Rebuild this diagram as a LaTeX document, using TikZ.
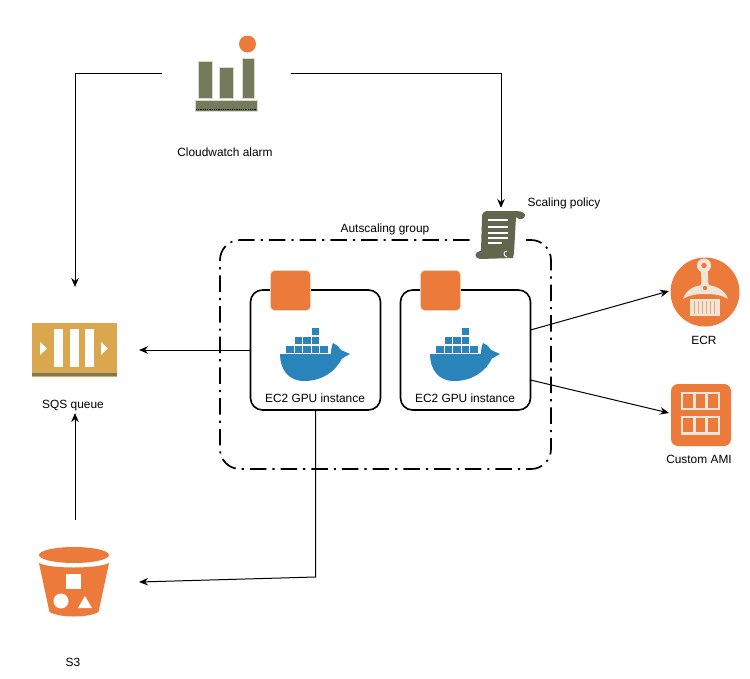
\documentclass[tikz,border=0pt]{standalone}
\usepackage{fontspec}
\setmainfont{Liberation Sans}
\usetikzlibrary{arrows.meta}
\definecolor{awsorange}{HTML}{EC7A3B}
\definecolor{olivegrey}{HTML}{747A5C}
\definecolor{scrolldark}{HTML}{62664E}
\definecolor{sqsgold}{HTML}{DAA64E}
\definecolor{dockerblue}{HTML}{2A84BC}
\definecolor{cream}{HTML}{F0E6D8}
\definecolor{halo}{HTML}{DDD8C6}
\tikzset{
  x=1pt,y=-1pt,
  lbl/.style={font=\fontsize{11.9}{13}\selectfont,inner sep=0pt,text=black},
  slot/.style={draw=none,inner sep=0pt,outer sep=0pt,shape=rectangle},
  conn/.style={draw=black,line width=1pt},
  arrowconn/.style={conn,-{Stealth[length=9pt,width=7.5pt]}},
  instance/.style={draw=black,line width=1.6pt,rounded corners=12pt,minimum width=130pt,minimum height=120pt,inner sep=0pt,outer sep=0pt,fill=white},
  group/.style={draw=black,line width=1.7pt,rounded corners=20pt,minimum width=331pt,minimum height=229pt,inner sep=0pt,outer sep=0pt,dash pattern=on 16.5pt off 6pt on 2.2pt off 6pt},
  chip/.style={fill=awsorange,draw=halo,line width=0.8pt,rounded corners=4pt,minimum size=40pt,inner sep=0pt},
  pics/whale/.style={code={
    \fill[dockerblue] (0,0) -- (51,0) .. controls (51,-5) and (52,-9) .. (53,-11) -- (58,-8) -- (61,-4) -- (70,0) -- (62,4.5)
      .. controls (55,18) and (42,27) .. (24,27) .. controls (8,27) and (0,15) .. (0,0) -- cycle;
    \foreach \cx in {6,14.6,23.2,31.8,40.4} \fill[dockerblue] (\cx,-8.4) rectangle ++(7.6,7.4);
    \foreach \cx in {14.6,23.2,31.8} \fill[dockerblue] (\cx,-17.4) rectangle ++(7.6,7.4);
    \fill[dockerblue] (31.8,-26.4) rectangle ++(7.6,7.4);
  }},
}
\begin{document}
\begin{tikzpicture}
\useasboundingbox (0,0) rectangle (750,678);
\fill[white] (0,0) rectangle (750,678);

% layout slots
\node[slot,minimum width=129pt,minimum height=80pt] (cw) at (226.5,73) {};
\node[slot,minimum width=128pt,minimum height=126pt] (sqs) at (75,350) {};
\node[slot,minimum width=128pt,minimum height=124pt] (s3) at (75,582) {};
\node[slot,minimum width=50pt,minimum height=52pt] (policy) at (501,234) {};
\node[slot,minimum size=72pt,shape=circle] (ecr) at (705,291) {};
\node[slot,minimum width=64pt,minimum height=64pt] (ami) at (701,413) {};

% group and instances
\node[group] (asg) at (385.5,354.5) {};
\node[instance] (lbox) at (315.5,350) {};
\node[instance] (rbox) at (465.5,350) {};
\coordinate (bend) at (lbox.south |- 0,577);

% connectors
\draw[arrowconn] (cw.west) -| (sqs.north);
\draw[arrowconn] (cw.east) -| (policy.north);
\draw[arrowconn] (lbox.west) -- (sqs.east);
\draw[arrowconn] (lbox.south) -- (bend) -- (s3.east);
\draw[arrowconn] (s3.north) -- (sqs.south);
\draw[arrowconn] ([yshift=20pt]rbox.east) -- (ecr.west);
\draw[arrowconn] ([yshift=-30pt]rbox.east) -- (ami.west);

% instance contents
\node[chip] (lchip) at (290.5,290.5) {};
\node[chip] (rchip) at (440.5,290.5) {};
\pic at (280,354) {whale};
\pic at (430,354) {whale};
\node[lbl] (lname) at (315,398) {EC2 GPU instance};
\node[lbl] (rname) at (465,398) {EC2 GPU instance};
\node[lbl] (asgname) at (385,229) {Autscaling group};

% cloudwatch
\fill[olivegrey,draw=halo,line width=0.7pt] (198,61) rectangle (212,98);
\fill[olivegrey,draw=halo,line width=0.7pt] (219,67) rectangle (233,98);
\fill[olivegrey,draw=halo,line width=0.7pt] (242,58) rectangle (254,98);
\fill[olivegrey,draw=halo,line width=0.7pt] (195,100) rectangle (257,111);
\draw[black,line width=0.8pt,densely dotted] (196,109) -- (256,109);
\fill[awsorange] (247.5,44) circle (8.5);
\node[lbl] (cwname) at (225,152) {Cloudwatch alarm};

% sqs
\fill[sqsgold] (32,323) rectangle (117,377);
\fill[olivegrey] (32,373) rectangle (117,375.5);
\fill[white] (53.5,329) rectangle (62.5,367);
\fill[white] (70,329) rectangle (79,367);
\fill[white] (85,329) rectangle (94,367);
\fill[white] (40,342) -- (47,348.5) -- (40,355) -- cycle;
\fill[white] (101,342) -- (108,348.5) -- (101,355) -- cycle;
\node[lbl] (sqsname) at (73,405.5) {SQS queue};

% s3
\fill[awsorange] (74,555) ellipse [x radius=35, y radius=8];
\fill[awsorange] (39,563) .. controls (50,569) and (97,569) .. (109,563) -- (98.5,612) .. controls (88,618) and (60,618) .. (49.5,612) -- cycle;
\fill[white] (66,574) rectangle (81,589);
\fill[white] (61,601) circle (7.5);
\fill[white] (85,596) -- (92,608) -- (78,608) -- cycle;
\node[lbl] (s3name) at (73,662) {S3};

% scaling policy
\fill[white] (474,207) rectangle (526,262);
\fill[scrolldark] (488,211) -- (516,211) .. controls (521,211) and (526,213) .. (525,216) .. controls (524,220) and (518,220) .. (516,217)
  -- (514,253) -- (513,258) -- (480,259) .. controls (474,258) and (474,252) .. (480,251) -- (481,251) -- (482,217) .. controls (482,213) and (484,211) .. (488,211) -- cycle;
\draw[white,line width=0.9pt] (507,257) .. controls (503,256) and (503,251) .. (507,251);
\draw[white,line width=1.5pt] (488,220) -- (508,220) (488,227) -- (508,227) (488,233) -- (508,233) (488,238) -- (508,238) (488,243) -- (502,243);
\node[lbl] (policyname) at (564,203) {Scaling policy};

% ECR
\fill[awsorange] (705,292) circle (34.5);
\fill[cream] (701,266) -- (707.5,266) -- (708.5,288) -- (701.5,288) -- cycle;
\fill[cream] (704,265.5) circle (7);
\fill[awsorange] (704,265.5) circle (2.7);
\fill[cream] (683,299) .. controls (686,290) and (694,285) .. (705,285) .. controls (716,285) and (725,290) .. (728,299) .. controls (722,295) and (714,294) .. (705,294) .. controls (696,294) and (689,295) .. (683,299) -- cycle;
\fill[cream] (705,288) circle (5.5);
\fill[awsorange] (705,288) circle (2.2);
\fill[cream] (690,299) rectangle (720,316);
\foreach \sx in {694,698,702,706,710,714}
  \draw[awsorange!60!cream,line width=0.9pt] (\sx,301) -- (\sx,314);
\node[lbl] (ecrname) at (704,340) {ECR};

% AMI
\fill[awsorange] (671,384) [rounded corners=7pt] rectangle (731,446);
\draw[cream,line width=2.5pt] (682,393) rectangle (719,409) (694.3,393) -- (694.3,409) (706.6,393) -- (706.6,409);
\draw[cream,line width=2.5pt] (682,417) rectangle (719,433.5) (694.3,417) -- (694.3,433.5) (706.6,417) -- (706.6,433.5);
\node[lbl] (aminame) at (699,459) {Custom AMI};
\end{tikzpicture}
\end{document}
